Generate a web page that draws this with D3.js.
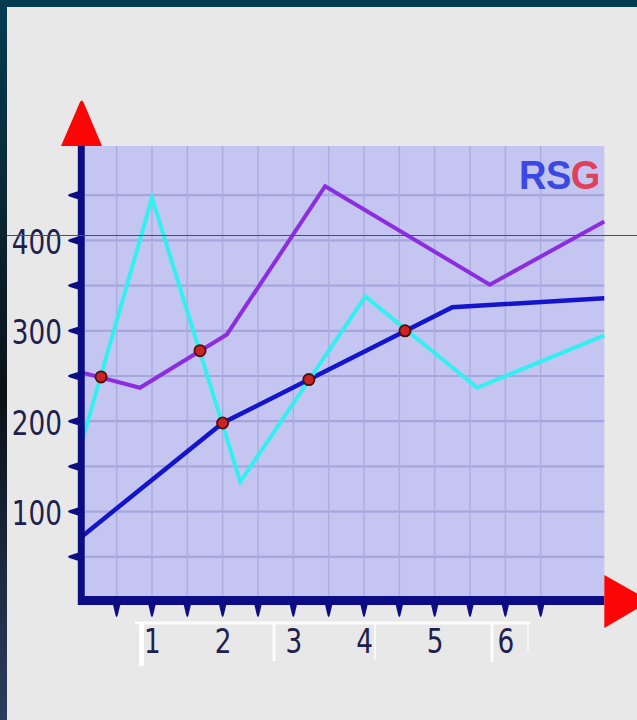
<!DOCTYPE html>
<html>
<head>
<meta charset="utf-8">
<script src="https://cdn.jsdelivr.net/npm/d3@7/dist/d3.min.js"></script>
<style>
  html, body { margin: 0; padding: 0; background: #0a1e28; }
  svg { display: block; }
</style>
</head>
<body>
<script>
// ---------------- DATA ----------------
const xTickValues = [0.5, 1, 1.5, 2, 2.5, 3, 3.5, 4, 4.5, 5, 5.5, 6, 6.5];
const xLabels = [1, 2, 3, 4, 5, 6];
const yTickValues = [50, 100, 150, 200, 250, 300, 350, 400, 450];
const yLabels = [100, 200, 300, 400];

const cyanX   = [0,   1.0, 2.25, 4.02, 5.6, 7.4];
const cyanY   = [175, 447, 133,  338,  237, 295];
const purpleX = [0,   0.83, 2.06, 3.45, 5.78, 7.4];
const purpleY = [254, 237,  296,  460,  351,  421];
const blueX   = [0,  2.0, 5.25, 7.4];
const blueY   = [72, 198, 326,  336];
const dotX    = [0.28, 1.68, 2.0, 3.22, 4.58];
const dotY    = [249,  278,  198, 246,  300];

const brandParts = ["RS", "G"];

// ---------------- LAYOUT ----------------
const W = 637, H = 720;
const svg = d3.select("body").append("svg").attr("width", W).attr("height", H);

const x = d3.scaleLinear().domain([0, 7.4]).range([81.3, 604.3]);
const y = d3.scaleLinear().domain([0, 500]).range([602, 150]);
const plotLeft = 85, plotRight = x(7.4), plotTop = 146, plotBottom = 596;
const axisColor = "#0c0c84";

// background gradient
const defs = svg.append("defs");
const g1 = defs.append("linearGradient").attr("id", "bg").attr("x1", 0).attr("y1", 0).attr("x2", 0).attr("y2", 1);
g1.append("stop").attr("offset", "0%").attr("stop-color", "#033c52");
g1.append("stop").attr("offset", "25%").attr("stop-color", "#0a2a38");
g1.append("stop").attr("offset", "55%").attr("stop-color", "#0a1218");
g1.append("stop").attr("offset", "100%").attr("stop-color", "#2c3e5e");
svg.append("rect").attr("width", W).attr("height", H).attr("fill", "url(#bg)");

// light panel
svg.append("rect").attr("x", 7).attr("y", 7).attr("width", W - 7).attr("height", H - 7).attr("fill", "#e8e8e8");

// plot area
svg.append("rect").attr("x", plotLeft).attr("y", plotTop)
  .attr("width", plotRight - plotLeft).attr("height", plotBottom - plotTop)
  .attr("fill", "#c5c5f1");

// grid
const grid = svg.append("g");
grid.selectAll(".hg").data(yTickValues).join("line")
  .attr("x1", plotLeft).attr("x2", plotRight)
  .attr("y1", d => y(d)).attr("y2", d => y(d))
  .attr("stroke", "#a6a6dc").attr("stroke-width", 2.2);
grid.selectAll(".vg").data(xTickValues).join("line")
  .attr("x1", d => x(d)).attr("x2", d => x(d))
  .attr("y1", plotTop).attr("y2", plotBottom)
  .attr("stroke", "#adade0").attr("stroke-width", 1.5);

// brand text
const brand = svg.append("text")
  .attr("transform", "translate(519,189) scale(0.95,1)")
  .attr("font-family", "Liberation Sans, Arial, sans-serif")
  .attr("font-weight", "bold").attr("font-size", 40).attr("letter-spacing", -0.5);
brand.append("tspan").attr("fill", "#3b48e2").text(brandParts[0]);
brand.append("tspan").attr("fill", "#e0405c").text(brandParts[1]);

// lines
const line = d3.line().x(d => x(d[0])).y(d => y(d[1]));
const series = [
  { xs: blueX, ys: blueY, color: "#1414cc", w: 4.5 },
  { xs: purpleX, ys: purpleY, color: "#8c2ee0", w: 4 },
  { xs: cyanX, ys: cyanY, color: "#33f0f0", w: 4 }
];
series.forEach(s => {
  svg.append("path").datum(d3.zip(s.xs, s.ys)).attr("d", line)
    .attr("fill", "none").attr("stroke", s.color).attr("stroke-width", s.w)
    .attr("stroke-linejoin", "miter").attr("stroke-linecap", "butt");
});

// dots
svg.selectAll(".dot").data(d3.zip(dotX, dotY)).join("circle")
  .attr("cx", d => x(d[0])).attr("cy", d => y(d[1])).attr("r", 5.6)
  .attr("fill", "#cc2424").attr("stroke", "#4a1010").attr("stroke-width", 1.8);

// axis lines
svg.append("line").attr("x1", x(0)).attr("x2", x(0)).attr("y1", plotTop).attr("y2", 605)
  .attr("stroke", axisColor).attr("stroke-width", 7);
svg.append("line").attr("x1", 78).attr("x2", plotRight).attr("y1", 600.5).attr("y2", 600.5)
  .attr("stroke", axisColor).attr("stroke-width", 9);

// tick spikes
svg.selectAll(".xt").data(xTickValues).join("path")
  .attr("d", d => { const px = x(d); return `M${px-3.8},604 L${px+3.8},604 L${px+1.2},615 Q${px},619 ${px-1.2},615 Z`; })
  .attr("fill", axisColor);
svg.selectAll(".yt").data(yTickValues).join("path")
  .attr("d", d => { const py = y(d); return `M78,${py-4} L78,${py+4} L70,${py+1.5} Q66,${py} 70,${py-1.5} Z`; })
  .attr("fill", axisColor);

// arrows
svg.append("path").attr("d", `M61,${plotTop} L80,102 Q81.7,99 83.4,102 L102,${plotTop} Z`).attr("fill", "#fb0606");
svg.append("path").attr("d", `M${plotRight},575 L650,601 L${plotRight},628 Z`).attr("fill", "#fb0606");

// faint white label frames (decoration)
const fr = svg.append("g").attr("stroke", "#ffffff").attr("fill", "none");
fr.append("line").attr("x1", 135).attr("x2", 530).attr("y1", 623).attr("y2", 623).attr("stroke-width", 3).attr("opacity", 0.9);
fr.append("line").attr("x1", 141.5).attr("x2", 141.5).attr("y1", 622).attr("y2", 666).attr("stroke-width", 5);
fr.append("line").attr("x1", 274).attr("x2", 274).attr("y1", 622).attr("y2", 661).attr("stroke-width", 3).attr("opacity", 0.9);
fr.append("line").attr("x1", 375).attr("x2", 375).attr("y1", 622).attr("y2", 660).attr("stroke-width", 2).attr("opacity", 0.7);
fr.append("line").attr("x1", 492).attr("x2", 492).attr("y1", 622).attr("y2", 662).attr("stroke-width", 3).attr("opacity", 0.8);
fr.append("line").attr("x1", 528).attr("x2", 528).attr("y1", 622).attr("y2", 652).attr("stroke-width", 2).attr("opacity", 0.5);

// axis labels via d3 axes
const labelFont = "DejaVu Sans Condensed, DejaVu Sans, sans-serif";
const xAxis = svg.append("g").attr("transform", "translate(0,600.5)")
  .call(d3.axisBottom(x).tickValues(xLabels).tickSize(0).tickFormat(d3.format("d")));
xAxis.select(".domain").remove();
xAxis.selectAll("text").attr("y", 53).attr("dy", null)
  .attr("transform", "scale(0.86,1)")
  .attr("font-family", labelFont).attr("font-size", 34).attr("font-weight", 300).attr("fill", "#20204e");

const yAxis = svg.append("g").attr("transform", "translate(62,0)")
  .call(d3.axisLeft(y).tickValues(yLabels).tickSize(0).tickPadding(0).tickFormat(d3.format("d")));
yAxis.select(".domain").remove();
yAxis.selectAll("text").attr("x", 0).attr("dy", null).attr("y", 13)
  .attr("transform", "scale(0.86,1)")
  .attr("text-anchor", "end")
  .attr("font-family", labelFont).attr("font-size", 34).attr("font-weight", 300).attr("fill", "#20204e");

// thin hairline across
svg.append("line").attr("x1", 7).attr("x2", W).attr("y1", 235.5).attr("y2", 235.5)
  .attr("stroke", "#46525c").attr("stroke-width", 1);
</script>
</body>
</html>
